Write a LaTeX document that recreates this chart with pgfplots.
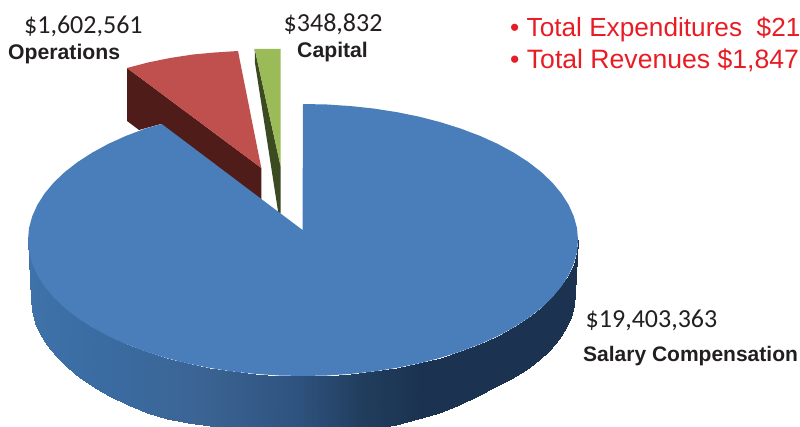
\documentclass[border=0pt]{standalone}
\usepackage{pgfplots}
\pgfplotsset{compat=1.18}
\usepackage{fontspec}
\setmainfont{Liberation Sans}
\newfontfamily\carl{Carlito}
\definecolor{bluetop}{RGB}{74,126,187}
\definecolor{redtop}{RGB}{192,80,77}
\definecolor{greentop}{RGB}{155,187,89}
\definecolor{reddark}{RGB}{79,28,25}
\definecolor{greendark}{RGB}{60,74,34}
\definecolor{txt}{RGB}{35,31,32}
\definecolor{redtxt}{RGB}{232,28,36}
\begin{document}
\begin{tikzpicture}
\useasboundingbox (0,0) rectangle (800pt,427pt);
\begin{axis}[
  at={(0,0)},anchor=south west,
  scale only axis,width=800pt,height=427pt,
  xmin=0,xmax=800,ymin=0,ymax=427,y dir=reverse,
  axis lines=none,
  colormap={side}{rgb255(28pt)=(62,114,168) rgb255(100pt)=(58,108,162) rgb255(200pt)=(59,100,148) rgb255(300pt)=(46,82,126) rgb255(360pt)=(33,62,94) rgb255(420pt)=(27,51,80) rgb255(578pt)=(27,51,80)},
  point meta min=28,point meta max=578,
]
% red slice side and top
\addplot[fill=reddark,draw=none] coordinates {(127,68)(261.3,168)(261.3,200)(161,124)(139,130)(127,121)} -- cycle;
\addplot[fill=redtop,draw=none] coordinates {(127,68)(148,62.5)(170,58)(193,54.5)(215,52.5)(238,51)(261.3,168)} -- cycle;
% green slice side and top
\addplot[fill=greendark,draw=none] coordinates {(254.7,49)(280.7,166.7)(280.7,213)(278.3,213)(255,63)} -- cycle;
\addplot[fill=greentop,draw=none] coordinates {(254.7,49)(280.7,49)(280.7,166.7)} -- cycle;
% blue side
\addplot[surf,shader=interp,mesh/cols=2,point meta=x,draw=none] coordinates {
(28,240)(31,299)
(29,251.9)(32,310.9)
(32.2,263.6)(35.1,322.6)
(37.4,275.2)(40.3,334.2)
(44.6,286.5)(47.4,345.5)
(53.8,297.5)(56.5,356.5)
(64.8,308)(67.4,367)
(77.7,318)(80.2,377.5)
(92.3,327.4)(94.6,387.5)
(108.5,336.2)(110.6,396.5)
(126.2,344.2)(128.1,405)
(145.3,351.4)(147,412.5)
(165.5,357.8)(167,418.5)
(186.8,363.3)(188.1,423)
(208.9,367.8)(209.9,426.5)
(231.8,371.4)(232.6,430.4)
(255.2,373.9)(255.7,432.9)
(279,375.5)(279.3,434.5)
(303,376)(303,435)
(327,375.5)(326.7,434)
(350.8,373.9)(350.3,431.9)
(374.2,371.4)(373.4,428.9)
(397.1,367.8)(396.1,424.8)
(419.2,363.3)(417.9,419.3)
(440.5,357.8)(439,412.8)
(460.7,351.4)(459,405.4)
(479.8,344.2)(477.9,396.2)
(497.5,336.2)(495.4,387.2)
(513.7,327.4)(511.4,378.9)
(528.3,318)(525.8,370)
(541.2,308)(538.6,360)
(552.2,297.5)(549.5,350)
(561.4,286.5)(558.6,339)
(568.6,275.2)(565.7,328.2)
(573.8,263.6)(570.9,316.6)
(577,251.9)(574,304.9)
(578,240)(575,293)
};
% blue top
\addplot[fill=bluetop,draw=none] coordinates {
(303,104)(327,104.5)(350.8,106.1)(374.2,108.6)(397.1,112.2)(419.2,116.7)(440.5,122.2)(460.7,128.6)(479.8,135.8)(497.5,143.8)(513.7,152.6)(528.3,162)(541.2,172)(552.2,182.5)(561.4,193.5)(568.6,204.8)(573.8,216.4)(577,228.1)(578,240)
(577,251.9)(573.8,263.6)(568.6,275.2)(561.4,286.5)(552.2,297.5)(541.2,308)(528.3,318)(513.7,327.4)(497.5,336.2)(479.8,344.2)(460.7,351.4)(440.5,357.8)(419.2,363.3)(397.1,367.8)(374.2,371.4)(350.8,373.9)(327,375.5)(303,376)
(279,375.5)(255.2,373.9)(231.8,371.4)(208.9,367.8)(186.8,363.3)(165.5,357.8)(145.3,351.4)(126.2,344.2)(108.5,336.2)(92.3,327.4)(77.7,318)(64.8,308)(53.8,297.5)(44.6,286.5)(37.4,275.2)(32.2,263.6)(29,251.9)(28,240)
(29,228.1)(32.2,216.4)(37.4,204.8)(44.6,193.5)(53.8,182.5)(64.8,172)(77.7,162)(92.3,152.6)(108.5,143.8)(126.2,135.8)(145.3,128.6)(161.7,124)(302.5,230)
} -- cycle;
% labels
\node[anchor=base west,inner sep=0,text=txt] at (axis cs:24,34) {\carl\fontsize{26}{30}\selectfont \$1,602,561};
\node[anchor=base west,inner sep=0,text=txt] at (axis cs:283.5,32) {\carl\fontsize{26}{30}\selectfont \$348,832};
\node[anchor=base west,inner sep=0,text=txt] at (axis cs:585.5,327) {\carl\fontsize{26}{30}\selectfont \$19,403,363};
\node[anchor=base west,inner sep=0,text=txt] at (axis cs:8,60) {\bfseries\fontsize{21.2}{25}\selectfont Operations};
\node[anchor=base west,inner sep=0,text=txt] at (axis cs:297,58) {\bfseries\fontsize{21.2}{25}\selectfont Capital};
\node[anchor=base west,inner sep=0,text=txt] at (axis cs:583,361.5) {\bfseries\fontsize{21}{25}\selectfont Salary Compensation};
\node[anchor=base west,inner sep=0,text=redtxt] at (axis cs:510,37) {\fontsize{26.2}{30}\selectfont •\ Total Expenditures\ \ \$21};
\node[anchor=base west,inner sep=0,text=redtxt] at (axis cs:510,69) {\fontsize{26.6}{30}\selectfont •\ Total Revenues \$1,847};
\end{axis}
\end{tikzpicture}
\end{document}
